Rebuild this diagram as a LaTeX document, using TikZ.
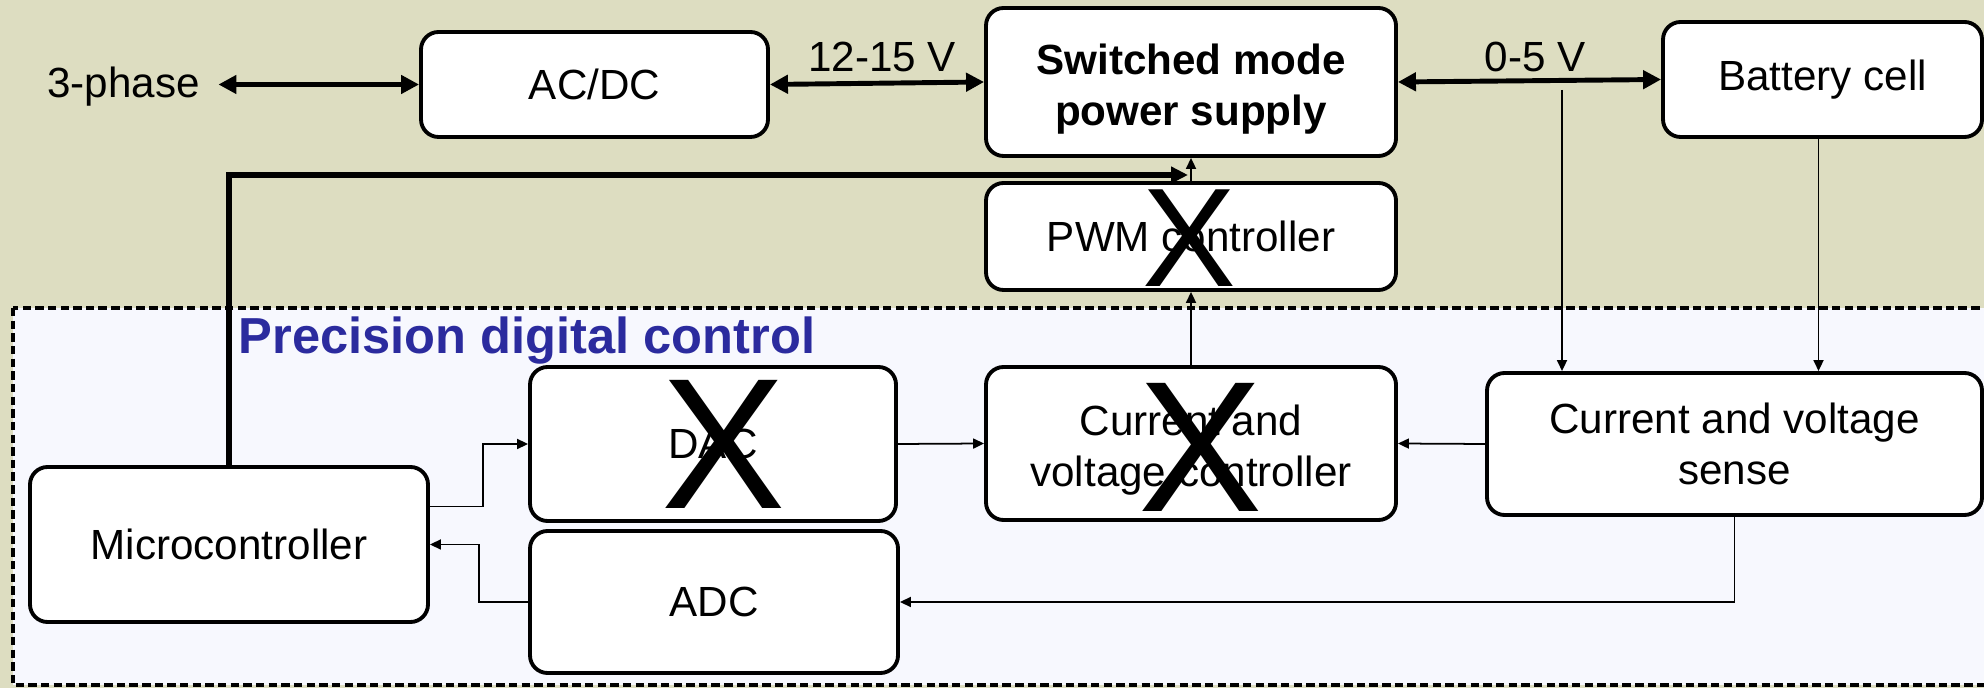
\documentclass[tikz,border=0pt]{standalone}
\usepackage{fontspec}
\setmainfont{Liberation Sans}
\usepackage{xcolor}
\definecolor{psuolive}{RGB}{221,221,193}
\definecolor{psupale}{RGB}{247,248,254}
\definecolor{psublue}{RGB}{43,43,158}
\usepackage{tikz}
\usetikzlibrary{arrows.meta,positioning}
\newcommand\psufont{\fontsize{12}{14.5}\selectfont}
\newcommand\psutop{\rule{0pt}{12.5pt}}
\tikzset{
  psu box/.style={draw, fill=white, rounded corners=5pt, line width=1.1pt, align=center, font=\psufont, inner sep=0pt},
  psu power/.style={{Triangle[length=1.8mm,width=1.8mm]}-{Triangle[length=1.8mm,width=1.8mm]}, line width=1.4pt},
  psu drive/.style={-{Triangle[length=1.7mm,width=1.6mm]}, line width=1.6pt},
  psu signal/.style={-{Triangle[length=1.1mm,width=1.0mm]}, line width=0.5pt},
  psu label/.style={font=\psufont, inner sep=2pt},
  psu cross/.style={inner sep=0pt, font=\fontsize{#1}{#1}\selectfont},
  psu region/.style={draw, fill=psupale, line width=1.3pt, dash pattern=on 2.4pt off 1.2pt},
}

\begin{document}
\begin{tikzpicture}
  \useasboundingbox (0,0) rectangle (19.84,-6.88);
  \fill[psuolive] (0,0) rectangle (19.84,-6.88);
  \draw[psu region] (0.13,-3.08) rectangle (20.3,-6.85);
  \node[anchor=base west, font=\fontsize{14.4}{16}\selectfont\bfseries, text=psublue, inner sep=0pt] (title) at (2.38,-3.54) {Precision digital control};

  \node[psu label] (phase) at (1.235,-0.87) {3-phase};
  \node[psu box, minimum width=3.47cm, minimum height=1.05cm] (acdc) at (5.945,-0.845) {AC/DC};
  \node[psu box, minimum width=4.10cm, minimum height=1.48cm, font=\psufont\bfseries] (smps) at (11.91,-0.82) {\psutop Switched mode\\power supply};
  \node[psu box, minimum width=3.19cm, minimum height=1.15cm] (batt) at (18.225,-0.795) {Battery cell};
  \node[psu box, minimum width=4.10cm, minimum height=1.07cm] (pwm) at (11.91,-2.365) {PWM controller};
  \node[psu box, minimum width=3.66cm, minimum height=1.54cm] (dac) at (7.13,-4.44) {DAC};
  \node[psu box, minimum width=3.68cm, minimum height=1.42cm] (adc) at (7.14,-6.02) {ADC};
  \node[psu box, minimum width=3.98cm, minimum height=1.55cm] (micro) at (2.29,-5.445) {Microcontroller};
  \node[psu box, minimum width=4.10cm, minimum height=1.53cm] (cvc) at (11.91,-4.435) {\psutop Current and\\voltage controller};
  \node[psu box, minimum width=4.95cm, minimum height=1.42cm] (sense) at (17.345,-4.44) {Current and voltage\\sense};

  \node[psu label] (lowv) at (8.82,-0.57) {12-15 V};
  \node[psu label] (cellv) at (15.35,-0.57) {0-5 V};

  \draw[psu power, shorten <=1.1mm] (phase.east |- acdc.west) -- (acdc.west);
  \draw[psu power] (acdc.east) -- (smps.west);
  \draw[psu power] (smps.east) -- (batt.west);

  \coordinate (pwmin) at (11.88,-1.75);
  \draw[psu drive] (micro.north) |- (pwmin);
  \draw[psu signal] (pwm.north) -- (smps.south);
  \draw[psu signal] (cvc.north) -- (pwm.south);

  \coordinate (tap) at (15.62,-0.90);
  \draw[psu signal] (tap) -- (tap |- sense.north);
  \draw[psu signal] ([xshift=-0.4mm]batt.south) -- ([xshift=-0.4mm]batt.south |- sense.north);
  \draw[psu signal] (sense.west) -- (cvc.east);
  \draw[psu signal] (dac.east) -- (cvc.west);
  \draw[psu signal] ([yshift=3.8mm]micro.east) -- ++(0.53,0) |- (dac.west);
  \draw[psu signal] (adc.west) -- ++(-0.49,0) |- (micro.east);
  \draw[psu signal] (sense.south) |- (adc.east);

  \node[psu cross=53] (dacx) at (7.24,-4.44) {X};
  \node[psu cross=40] (pwmx) at (11.89,-2.38) {X};
  \node[psu cross=53] (cvcx) at (12.01,-4.47) {X};
\end{tikzpicture}
\end{document}
